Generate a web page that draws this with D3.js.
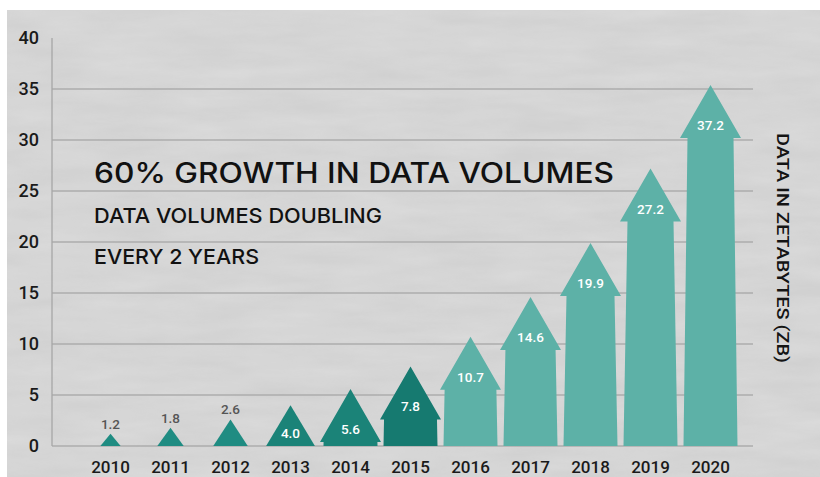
<!DOCTYPE html>
<html>
<head>
<meta charset="utf-8">
<script src="https://cdn.jsdelivr.net/npm/d3@7"></script>
<style>
  body { margin: 0; background: #fff; }
  svg { display: block; }
</style>
</head>
<body>
<svg id="chart" width="820" height="477"></svg>
<script>
const years = ["2010", "2011", "2012", "2013", "2014", "2015", "2016", "2017", "2018", "2019", "2020"];
const volumes = [1.2, 1.8, 2.6, 4.0, 5.6, 7.8, 10.7, 14.6, 19.9, 27.2, 37.2];
// where each arrow tip sits (the 2020 arrow stops short of its value)
const arrowTops = [1.2, 1.8, 2.6, 4.0, 5.6, 7.8, 10.7, 14.6, 19.9, 27.2, 35.4];
const yTicks = [0, 5, 10, 15, 20, 25, 30, 35, 40];
const gridTicks = [0, 5, 10, 15, 20, 25, 30, 35];
const titleLines = ["60% GROWTH IN DATA VOLUMES", "DATA VOLUMES DOUBLING", "EVERY 2 YEARS"];
const sideLabel = "DATA IN ZETABYTES (ZB)";

const svg = d3.select("svg#chart");

// paper background
const defs = svg.append("defs");
const paper = defs.append("filter").attr("id", "paper")
  .attr("x", 0).attr("y", 0).attr("width", "100%").attr("height", "100%");
paper.append("feTurbulence")
  .attr("type", "fractalNoise")
  .attr("baseFrequency", "0.012 0.06")
  .attr("numOctaves", 4)
  .attr("seed", 7);
paper.append("feColorMatrix")
  .attr("values", "0 0 0 0 0.45  0 0 0 0 0.45  0 0 0 0 0.45  0 0 0 0.3 -0.03");
paper.append("feComposite").attr("in2", "SourceGraphic").attr("operator", "in");

svg.append("rect")
  .attr("x", 7).attr("y", 10).attr("width", 813).attr("height", 467)
  .attr("fill", "#dadada");
svg.append("rect")
  .attr("x", 7).attr("y", 10).attr("width", 813).attr("height", 467)
  .attr("fill", "#fff")
  .attr("filter", "url(#paper)");

//scales
const yScale = d3.scaleLinear().domain([0, 40]).range([446, 38]);
const xScale = d3.scaleBand()
  .domain(years)
  .range([80.5, 740.5])
  .paddingInner(0.1)
  .paddingOuter(0.05);
const shade = d3.scaleThreshold().domain([3, 5, 6]).range(["#1f8c82", "#1b8378", "#167a70", "#5db1a7"]);

//grid + axis line
svg.append("g")
  .selectAll("line")
  .data(gridTicks)
  .join("line")
  .attr("x1", 52).attr("x2", 753)
  .attr("y1", d => yScale(d)).attr("y2", d => yScale(d))
  .attr("stroke", "#adadad")
  .attr("stroke-width", 1.5);

svg.append("line")
  .attr("x1", 52).attr("x2", 52)
  .attr("y1", yScale(40)).attr("y2", yScale(0))
  .attr("stroke", "#a6a6a6")
  .attr("stroke-width", 1.3);

//y tick labels
svg.append("g")
  .selectAll("text")
  .data(yTicks)
  .join("text")
  .attr("x", 39)
  .attr("y", d => yScale(d))
  .attr("dy", "0.36em")
  .attr("text-anchor", "end")
  .attr("font-family", "Roboto, sans-serif")
  .attr("font-size", 18)
  .attr("font-weight", 500)
  .attr("fill", "#1a1a1a")
  .text(d => d);

//title block
const titleSpec = [
  { y: 183, size: 28, len: 520 },
  { y: 223, size: 20.5, len: 288 },
  { y: 264, size: 20.5, len: 165 }
];
svg.append("g")
  .selectAll("text")
  .data(titleLines)
  .join("text")
  .attr("x", 94)
  .attr("y", (d, i) => titleSpec[i].y)
  .attr("font-family", "Inter, DejaVu Sans, sans-serif")
  .attr("font-size", (d, i) => titleSpec[i].size)
  .attr("font-weight", 500)
  .attr("textLength", (d, i) => titleSpec[i].len)
  .attr("lengthAdjust", "spacingAndGlyphs")
  .attr("fill", "#111")
  .text(d => d);

//arrows
const base = yScale(0);
const headMax = 53;
const arrowPath = (cx, tip) => {
  const h = base - tip;
  const hh = Math.min(h, headMax);
  const hw = (hh + 8) / 2;
  const headBase = tip + hh;
  const shaftLen = base - headBase;
  const bw = xScale.bandwidth() / 2;
  if (shaftLen <= 0) {
    return `M${cx},${tip}L${cx + hw},${base}L${cx - hw},${base}Z`;
  }
  const tw = Math.max(23, bw - 0.02 * shaftLen);
  return `M${cx},${tip}L${cx + hw},${headBase}L${cx + tw},${headBase}L${cx + bw},${base}` +
    `L${cx - bw},${base}L${cx - tw},${headBase}L${cx - hw},${headBase}Z`;
};

const cxOf = d => xScale(d) + xScale.bandwidth() / 2;

svg.append("g")
  .selectAll("path")
  .data(years)
  .join("path")
  .attr("d", (d, i) => arrowPath(cxOf(d), yScale(arrowTops[i])))
  .attr("fill", (d, i) => shade(i));

//value labels
svg.append("g")
  .selectAll("text")
  .data(years)
  .join("text")
  .attr("x", d => cxOf(d))
  .attr("y", (d, i) => {
    const tip = yScale(arrowTops[i]);
    if (volumes[i] < 4) return tip - 5;
    return Math.min(tip + Math.min(base - tip, headMax) - 8, base - 7);
  })
  .attr("text-anchor", "middle")
  .attr("font-family", "Roboto, sans-serif")
  .attr("font-size", 13.5)
  .attr("font-weight", 500)
  .attr("fill", (d, i) => volumes[i] < 4 ? "#555" : "#ffffff")
  .text((d, i) => volumes[i].toFixed(1));

//x labels
svg.append("g")
  .selectAll("text")
  .data(years)
  .join("text")
  .attr("x", d => cxOf(d))
  .attr("y", 473)
  .attr("text-anchor", "middle")
  .attr("font-family", "Roboto, sans-serif")
  .attr("font-size", 17)
  .attr("font-weight", 500)
  .attr("fill", "#1a1a1a")
  .text(d => d);

//side label
svg.append("text")
  .attr("transform", "translate(777,248) rotate(90)")
  .attr("text-anchor", "middle")
  .attr("font-family", "Roboto, sans-serif")
  .attr("font-size", 16.5)
  .attr("font-weight", 500)
  .attr("textLength", 230)
  .attr("lengthAdjust", "spacingAndGlyphs")
  .attr("fill", "#141414")
  .text(sideLabel);
</script>
</body>
</html>
